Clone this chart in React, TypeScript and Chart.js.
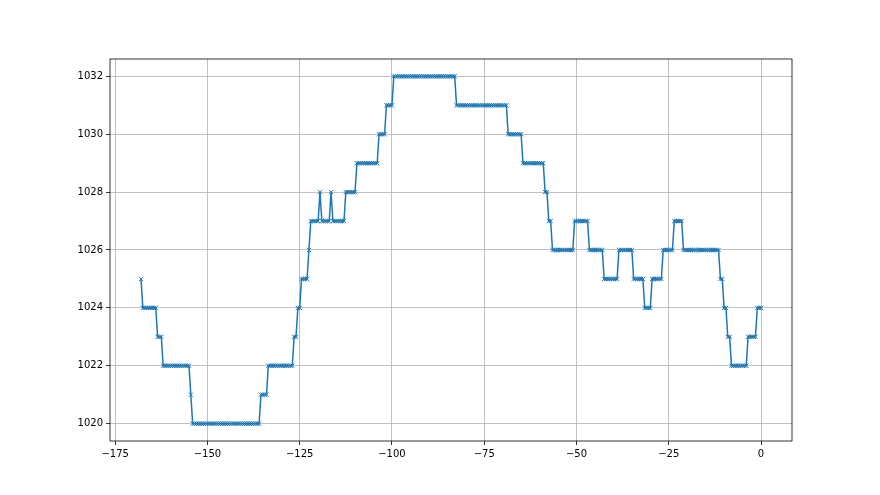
import { useEffect, useRef } from 'react';
import { Chart, registerables } from 'chart.js';

Chart.register(...registerables);

// Time axis: hours relative to the last reading, readings every half hour
const START_HOUR = -168;
const STEP_HOURS = 0.5;

// Pressure readings (hPa), half-hourly from -168 h to 0 h
const pressure = [
  1025,
  1024, 1024, 1024, 1024, 1024, 1024, 1024, 1024,
  1023, 1023, 1023,
  1022, 1022, 1022, 1022, 1022, 1022, 1022, 1022, 1022, 1022, 1022, 1022, 1022, 1022, 1022,
  1021,
  1020, 1020, 1020, 1020, 1020, 1020, 1020, 1020, 1020, 1020,
  1020, 1020, 1020, 1020, 1020, 1020, 1020, 1020, 1020, 1020,
  1020, 1020, 1020, 1020, 1020, 1020, 1020, 1020, 1020, 1020,
  1020, 1020, 1020, 1020, 1020, 1020, 1020,
  1021, 1021, 1021, 1021,
  1022, 1022, 1022, 1022, 1022, 1022, 1022, 1022, 1022, 1022, 1022, 1022, 1022, 1022,
  1023, 1023,
  1024, 1024,
  1025, 1025, 1025, 1025,
  1026,
  1027, 1027, 1027, 1027, 1027,
  1028,
  1027, 1027, 1027, 1027, 1027,
  1028,
  1027, 1027, 1027, 1027, 1027, 1027, 1027,
  1028, 1028, 1028, 1028, 1028, 1028,
  1029, 1029, 1029, 1029, 1029, 1029, 1029, 1029, 1029, 1029, 1029, 1029,
  1030, 1030, 1030, 1030,
  1031, 1031, 1031, 1031,
  1032, 1032, 1032, 1032, 1032, 1032, 1032, 1032, 1032, 1032,
  1032, 1032, 1032, 1032, 1032, 1032, 1032, 1032, 1032, 1032,
  1032, 1032, 1032, 1032, 1032, 1032, 1032, 1032, 1032, 1032,
  1032, 1032, 1032, 1032,
  1031, 1031, 1031, 1031, 1031, 1031, 1031, 1031, 1031, 1031,
  1031, 1031, 1031, 1031, 1031, 1031, 1031, 1031, 1031, 1031,
  1031, 1031, 1031, 1031, 1031, 1031, 1031, 1031,
  1030, 1030, 1030, 1030, 1030, 1030, 1030, 1030,
  1029, 1029, 1029, 1029, 1029, 1029, 1029, 1029, 1029, 1029, 1029, 1029,
  1028, 1028,
  1027, 1027,
  1026, 1026, 1026, 1026, 1026, 1026, 1026, 1026, 1026, 1026, 1026, 1026,
  1027, 1027, 1027, 1027, 1027, 1027, 1027, 1027,
  1026, 1026, 1026, 1026, 1026, 1026, 1026, 1026,
  1025, 1025, 1025, 1025, 1025, 1025, 1025, 1025,
  1026, 1026, 1026, 1026, 1026, 1026, 1026, 1026,
  1025, 1025, 1025, 1025, 1025, 1025,
  1024, 1024, 1024, 1024,
  1025, 1025, 1025, 1025, 1025, 1025,
  1026, 1026, 1026, 1026, 1026, 1026,
  1027, 1027, 1027, 1027, 1027,
  1026, 1026, 1026, 1026, 1026, 1026, 1026, 1026, 1026, 1026,
  1026, 1026, 1026, 1026, 1026, 1026, 1026, 1026, 1026, 1026,
  1025, 1025,
  1024, 1024,
  1023, 1023,
  1022, 1022, 1022, 1022, 1022, 1022, 1022, 1022, 1022,
  1023, 1023, 1023, 1023, 1023,
  1024, 1024, 1024,
];

const xTicks = [-175, -150, -125, -100, -75, -50, -25, 0];
const yTicks = [1020, 1022, 1024, 1026, 1028, 1030, 1032];

const X_MIN = -176.4;
const X_MAX = 8.4;
const Y_MIN = 1019.4;
const Y_MAX = 1032.6;

const FONT = { family: 'DejaVu Sans', size: 10 };

const framePlugin = {
  id: 'frame',
  afterDraw(chart: any) {
    const { ctx, chartArea } = chart;
    const { left, top, right, bottom } = chartArea;
    ctx.save();
    ctx.strokeStyle = '#000';
    ctx.lineWidth = 0.8;
    ctx.strokeRect(left, top, right - left, bottom - top);
    ctx.restore();
  },
};

const fmt = (v: number) => String(v).replace('-', '\u2212');

export default function App() {
  const ref = useRef<HTMLCanvasElement | null>(null);

  useEffect(() => {
    if (!ref.current) return;
    const points = pressure.map((p, i) => ({ x: START_HOUR + i * STEP_HOURS, y: p }));
    const chart = new Chart(ref.current, {
      type: 'line',
      data: {
        datasets: [
          {
            data: points,
            borderColor: '#1f77b4',
            backgroundColor: '#1f77b4',
            borderWidth: 1.5,
            pointStyle: 'crossRot',
            pointRadius: 3,
            pointBorderWidth: 1,
            pointBorderColor: '#1f77b4',
            tension: 0,
            fill: false,
          },
        ],
      },
      options: {
        responsive: false,
        animation: false,
        devicePixelRatio: 1,
        layout: { padding: { left: 0, top: 59, right: 88, bottom: 0 } },
        plugins: {
          legend: { display: false },
          tooltip: { enabled: false },
        },
        scales: {
          x: {
            type: 'linear',
            min: X_MIN,
            max: X_MAX,
            afterBuildTicks: (s: any) => {
              s.ticks = xTicks.map((v) => ({ value: v }));
            },
            afterFit: (s: any) => {
              s.height = 54;
            },
            grid: {
              color: '#b0b0b0',
              lineWidth: 0.8,
              tickColor: '#000',
              tickLength: 4,
              drawTicks: true,
            },
            border: { display: false },
            ticks: {
              font: FONT,
              color: '#000',
              padding: 3,
              maxRotation: 0,
              autoSkip: false,
              callback: (v: any) => fmt(Number(v)),
            },
          },
          y: {
            type: 'linear',
            min: Y_MIN,
            max: Y_MAX,
            afterBuildTicks: (s: any) => {
              s.ticks = yTicks.map((v) => ({ value: v }));
            },
            afterFit: (s: any) => {
              s.width = 110;
            },
            grid: {
              color: '#b0b0b0',
              lineWidth: 0.8,
              tickColor: '#000',
              tickLength: 4,
              drawTicks: true,
            },
            border: { display: false },
            ticks: {
              font: FONT,
              color: '#000',
              padding: 3,
              autoSkip: false,
              callback: (v: any) => String(v),
            },
          },
        },
      },
      plugins: [framePlugin],
    });
    return () => chart.destroy();
  }, []);

  return (
    <div style={{ position: 'fixed', left: 0, top: 0, width: 880, height: 495, background: '#fff' }}>
      <canvas ref={ref} width={880} height={495} style={{ display: 'block', width: 880, height: 495 }} />
    </div>
  );
}
